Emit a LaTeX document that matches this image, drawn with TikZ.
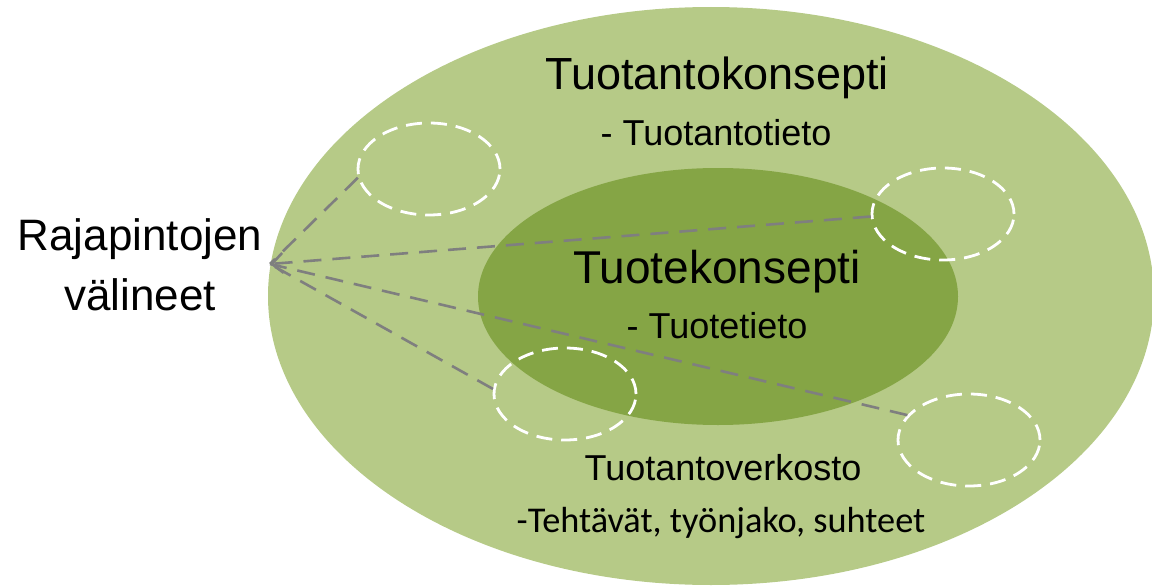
\documentclass[tikz,border=0pt]{standalone}
\usepackage{fontspec}
\setmainfont{Liberation Sans}
\newfontfamily\calib{Carlito}
\usetikzlibrary{shapes.geometric,arrows.meta}
\definecolor{outergreen}{HTML}{B6CA87}
\definecolor{innergreen}{HTML}{85A545}
\definecolor{linegray}{HTML}{7F7F7F}
\tikzset{
  blob/.style={ellipse, inner sep=0pt, draw=none},
  smallring/.style={ellipse, inner sep=0pt, minimum width=142pt, minimum height=92pt,
    draw=white, line width=2.8pt, dash pattern=on 16pt off 9pt},
  link/.style={draw=linegray, line width=2.6pt, dash pattern=on 18pt off 11pt},
  txt/.style={anchor=base, inner sep=0pt, text=black},
}
\begin{document}
\begin{tikzpicture}[x=1pt,y=-1pt]
\useasboundingbox (0,0) rectangle (1152,586);
\node[blob, fill=outergreen, minimum width=886pt, minimum height=578pt] (outer) at (711,296) {};
\node[blob, fill=innergreen, minimum width=480pt, minimum height=257pt] (inner) at (718,296.5) {};

\node[smallring] (e1) at (429,169) {};
\node[smallring] (e2) at (943,214) {};
\node[smallring] (e3) at (565,394) {};
\node[smallring] (e4) at (969,440) {};

\coordinate (src) at (270,264);

\draw[link] (e1.187) -- (src);
\draw[link, -{Straight Barb[length=11pt,width=20pt,line width=2.6pt]}] (e2.182) -- (src);
\draw[link] (e3.176) -- (src);
\draw[link] (e4.158) -- (src);

\node[txt, font=\fontsize{45}{54}\selectfont] (t1) at (717,90) {Tuotantokonsepti};
\node[txt, font=\fontsize{36}{43}\selectfont] (t2) at (716,145) {- Tuotantotieto};
\node[txt, font=\fontsize{46}{55}\selectfont] (t3) at (717,283) {Tuotekonsepti};
\node[txt, font=\fontsize{36}{43}\selectfont] (t4) at (717,338) {- Tuotetieto};
\node[txt, font=\fontsize{36}{43}\selectfont] (t5) at (723,480) {Tuotantoverkosto};
\node[txt, font=\calib\fontsize{36.3}{43}\selectfont] (t6) at (721,532) {-Tehtävät, työnjako, suhteet};
\node[txt, font=\fontsize{44}{53}\selectfont] (t7) at (140,250) {Rajapintojen};
\node[txt, font=\fontsize{44}{53}\selectfont] (t8) at (140,310) {välineet};
\end{tikzpicture}
\end{document}
